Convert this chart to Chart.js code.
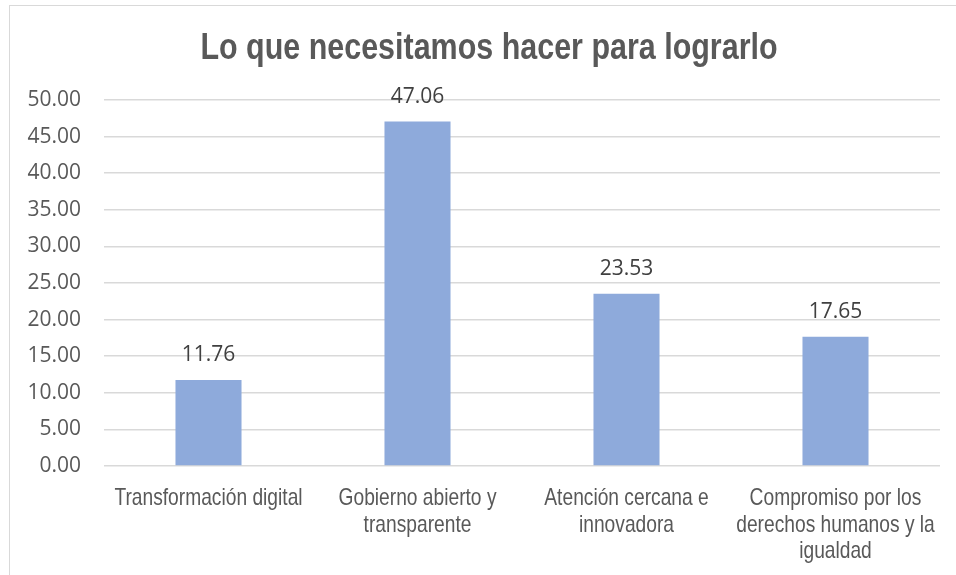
<!DOCTYPE html>
<html>
<head>
<meta charset="utf-8">
<script src="https://cdn.jsdelivr.net/npm/chart.js@4/dist/chart.umd.min.js"></script>
<style>
    body { margin: 0; background: #fff; overflow: hidden; }
    #frame {
        position: absolute; left: 9px; top: 5px;
        width: 960px; height: 580px;
        border-left: 1px solid #d9d9d9; border-top: 1px solid #d9d9d9;
    }
    #box { position: absolute; left: 0; top: 0; width: 947px; height: 570px; }
</style>
</head>
<body>
<div id="frame"><div id="box"><canvas id="myChart"></canvas></div></div>
<script>
const categorias = [
    ['Transformación digital'],
    ['Gobierno abierto y', 'transparente'],
    ['Atención cercana e', 'innovadora'],
    ['Compromiso por los', 'derechos humanos y la', 'igualdad']
];
const valores = [11.76, 47.06, 23.53, 17.65];
const titulo = 'Lo que necesitamos hacer para lograrlo';

// texto estrecho (no hay Arial Narrow instalada): se comprime en horizontal
function textoEstrecho(ctx, texto, x, y, escala) {
    ctx.save();
    ctx.translate(x, y);
    ctx.scale(escala, 1);
    ctx.fillText(texto, 0, 0);
    ctx.restore();
}

// titulo, etiquetas del eje x y valores encima de cada barra
const textos = {
    id: 'textos',
    afterDraw(chart) {
        const ctx = chart.ctx;
        const xScale = chart.scales.x;
        const meta = chart.getDatasetMeta(0);
        ctx.save();
        ctx.textAlign = 'center';
        ctx.textBaseline = 'alphabetic';

        ctx.fillStyle = '#595959';
        ctx.font = 'bold 36px "Liberation Sans"';
        textoEstrecho(ctx, titulo, 479, 53, 0.846);

        ctx.font = '24px "Liberation Sans"';
        categorias.forEach(function (lineas, i) {
            const x = xScale.getPixelForValue(i);
            lineas.forEach(function (linea, j) {
                textoEstrecho(ctx, linea, x, 499 + j * 26.5, 0.8);
            });
        });

        ctx.font = '21px "Open Sans"';
        ctx.fillStyle = '#404040';
        meta.data.forEach(function (bar, i) {
            ctx.fillText(valores[i].toFixed(2), bar.x, bar.y - 19);
        });
        ctx.restore();
    }
};

new Chart(document.getElementById('myChart'), {
    type: 'bar',
    data: {
        labels: categorias,
        datasets: [{
            data: valores,
            backgroundColor: '#8eaadb',
            barPercentage: 0.316,
            categoryPercentage: 1
        }]
    },
    options: {
        responsive: true,
        maintainAspectRatio: false,
        animation: false,
        layout: { padding: { left: 0, right: 17, top: 94, bottom: 0 } },
        plugins: {
            legend: { display: false },
            tooltip: { enabled: false },
            title: { display: false }
        },
        scales: {
            x: {
                grid: { display: false },
                border: { display: false },
                ticks: { display: false },
                afterFit: function (scale) { scale.height = 110; }
            },
            y: {
                min: 0,
                max: 50,
                grid: { color: '#d9d9d9', lineWidth: 1.5, drawTicks: false },
                border: { display: false },
                ticks: {
                    stepSize: 5,
                    color: '#595959',
                    padding: 23,
                    font: { family: '"Open Sans"', size: 21 },
                    callback: function (v) { return v.toFixed(2); }
                },
                afterFit: function (scale) { scale.width = 94; }
            }
        }
    },
    plugins: [textos]
});
</script>
</body>
</html>
